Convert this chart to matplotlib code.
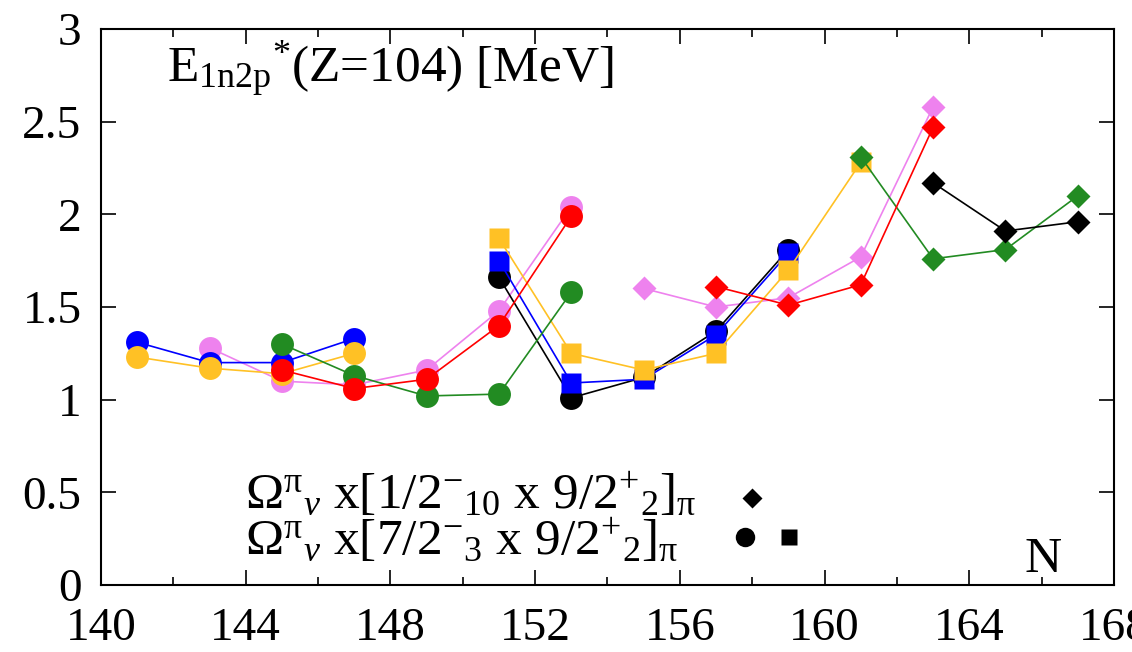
import matplotlib
matplotlib.use("Agg")
import matplotlib.pyplot as plt
from matplotlib.ticker import FixedLocator, FuncFormatter

plt.rcParams['font.family'] = ['Liberation Serif', 'DejaVu Serif']
plt.rcParams['mathtext.fontset'] = 'custom'
plt.rcParams['mathtext.rm'] = 'Liberation Serif'
plt.rcParams['mathtext.it'] = 'Liberation Serif:italic'
plt.rcParams['mathtext.bf'] = 'Liberation Serif:bold'
plt.rcParams['mathtext.default'] = 'rm'

# ---- data ----
black_circ_N = [151, 153, 155, 157, 159]
black_circ_E = [1.66, 1.01, 1.12, 1.37, 1.81]

blue_circ_N = [141, 143, 145, 147]
blue_circ_E = [1.31, 1.20, 1.20, 1.33]
blue_sq_N = [151, 153, 155, 157, 159]
blue_sq_E = [1.75, 1.09, 1.11, 1.35, 1.79]

orange_circ_N = [141, 143, 145, 147]
orange_circ_E = [1.23, 1.17, 1.14, 1.25]
orange_sq_N = [151, 153, 155, 157, 159, 161]
orange_sq_E = [1.87, 1.25, 1.16, 1.25, 1.70, 2.28]

violet_circ_N = [143, 145, 147, 149, 151, 153]
violet_circ_E = [1.28, 1.10, 1.08, 1.16, 1.48, 2.04]
violet_dia_N = [155, 157, 159, 161, 163]
violet_dia_E = [1.60, 1.50, 1.55, 1.77, 2.58]

green_circ_N = [145, 147, 149, 151, 153]
green_circ_E = [1.30, 1.13, 1.02, 1.03, 1.58]
green_dia_N = [161, 163, 165, 167]
green_dia_E = [2.31, 1.76, 1.81, 2.10]

red_circ_N = [145, 147, 149, 151, 153]
red_circ_E = [1.16, 1.06, 1.11, 1.40, 1.99]
red_dia_N = [157, 159, 161, 163]
red_dia_E = [1.61, 1.51, 1.62, 2.47]

black_dia_N = [163, 165, 167]
black_dia_E = [2.17, 1.91, 1.96]

x_ticks = [140, 144, 148, 152, 156, 160, 164, 168]
y_ticks = [0, 0.5, 1, 1.5, 2, 2.5, 3]

BLUE = '#0000ff'
ORANGE = '#ffc125'
VIOLET = '#ee82ee'
GREEN = '#228b22'
RED = '#ff0000'
BLACK = '#000000'

fig = plt.figure(figsize=(11.32, 6.52), dpi=100)
ax = fig.add_axes([101/1132, 1 - 585/652, (1114-101)/1132, (585-29)/652])

lw = 1.2
CIRC = 16.5
SQ = 14
DIA = 12

series = [
    (violet_circ_N, violet_circ_E, VIOLET, 'o', CIRC),
    (violet_dia_N, violet_dia_E, VIOLET, 'D', DIA),
    (black_circ_N, black_circ_E, BLACK, 'o', CIRC),
    (blue_circ_N, blue_circ_E, BLUE, 'o', CIRC),
    (blue_sq_N, blue_sq_E, BLUE, 's', SQ),
    (orange_circ_N, orange_circ_E, ORANGE, 'o', CIRC),
    (orange_sq_N, orange_sq_E, ORANGE, 's', SQ),
    (green_circ_N, green_circ_E, GREEN, 'o', CIRC),
    (green_dia_N, green_dia_E, GREEN, 'D', DIA),
    (red_circ_N, red_circ_E, RED, 'o', CIRC),
    (red_dia_N, red_dia_E, RED, 'D', DIA),
    (black_dia_N, black_dia_E, BLACK, 'D', DIA),
]
for i, (n, e, c, m, ms) in enumerate(series):
    ax.plot(n, e, color=c, lw=lw, marker=m, ms=ms, mec='none', mfc=c,
            zorder=3 + i * 0.1)

ax.set_xlim(140, 168)
ax.set_ylim(0, 3)

ax.xaxis.set_major_locator(FixedLocator(x_ticks))
ax.xaxis.set_minor_locator(FixedLocator(list(range(142, 168, 4))))
ax.yaxis.set_major_locator(FixedLocator(y_ticks))
ax.yaxis.set_major_formatter(FuncFormatter(lambda v, p: '%g' % v))

for s in ax.spines.values():
    s.set_linewidth(1.5)
ax.tick_params(axis='both', which='major', direction='in', length=11,
               width=1.2, labelsize=34, top=True, right=True)
ax.tick_params(axis='both', which='minor', direction='in', length=6,
               width=1.2, top=True, right=True)
ax.tick_params(axis='x', which='major', pad=16)
ax.tick_params(axis='y', which='major', pad=14)

FS = 37
ax.text(0.065, 0.905, r'$\mathrm{E_{1n2p}{}^{*}}$(Z=104) [MeV]',
        transform=ax.transAxes, fontsize=FS, va='baseline', ha='left')

ax.text(0.142, 0.139,
        r'$\Omega^{\pi}{}_{\mathit{\nu}}$ x[1/2$^{-}{}_{10}$ x 9/2$^{+}{}_{2}$]$_{\pi}$',
        transform=ax.transAxes, fontsize=FS, va='baseline', ha='left')
ax.text(0.142, 0.056,
        r'$\Omega^{\pi}{}_{\mathit{\nu}}$ x[7/2$^{-}{}_{3}$ x 9/2$^{+}{}_{2}$]$_{\pi}$',
        transform=ax.transAxes, fontsize=FS, va='baseline', ha='left')

ax.plot([0.643], [0.157], marker='D', ms=10, color=BLACK, mec='none',
        transform=ax.transAxes, clip_on=False)
ax.plot([0.636], [0.086], marker='o', ms=14, color=BLACK, mec='none',
        transform=ax.transAxes, clip_on=False)
ax.plot([0.679], [0.086], marker='s', ms=12, color=BLACK, mec='none',
        transform=ax.transAxes, clip_on=False)

ax.text(0.930, 0.023, 'N', transform=ax.transAxes, fontsize=FS,
        va='baseline', ha='center')

fig.savefig('out.png', dpi=100)
